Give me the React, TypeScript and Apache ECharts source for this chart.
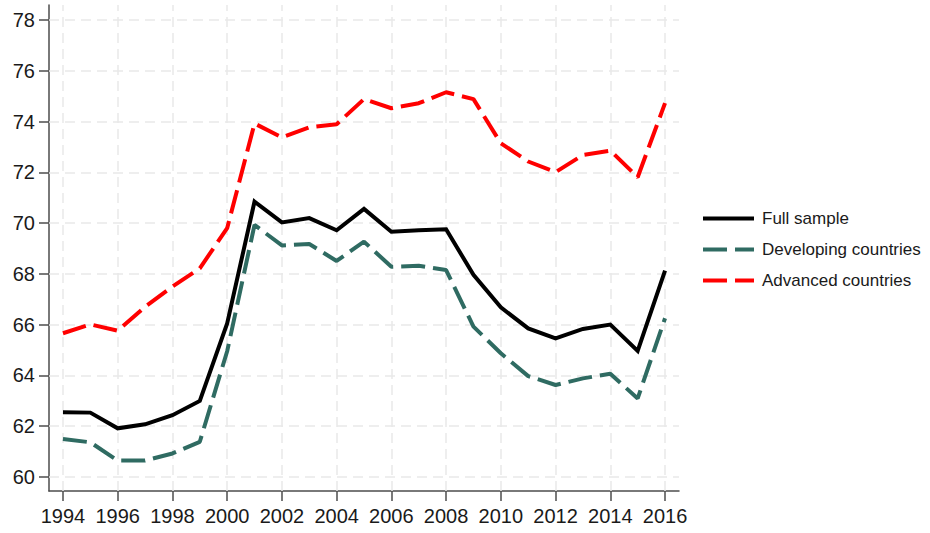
import React, { useEffect, useRef } from "react";
import * as echarts from "echarts";

const years = [1994, 1995, 1996, 1997, 1998, 1999, 2000, 2001, 2002, 2003, 2004, 2005, 2006, 2007, 2008, 2009, 2010, 2011, 2012, 2013, 2014, 2015, 2016];
const fullSample = [62.54, 62.53, 61.91, 62.07, 62.43, 62.99, 66.05, 70.85, 70.03, 70.2, 69.72, 70.56, 69.66, 69.72, 69.76, 67.96, 66.68, 65.85, 65.46, 65.83, 66.0, 64.96, 68.13];
const developing = [61.49, 61.36, 60.64, 60.64, 60.92, 61.38, 64.95, 69.93, 69.12, 69.18, 68.51, 69.27, 68.28, 68.32, 68.15, 65.92, 64.87, 63.97, 63.62, 63.88, 64.06, 63.09, 66.25];
const advanced = [65.66, 66.01, 65.76, 66.7, 67.5, 68.22, 69.8, 73.93, 73.38, 73.78, 73.9, 74.89, 74.53, 74.73, 75.16, 74.89, 73.15, 72.43, 72.01, 72.69, 72.86, 71.81, 74.73];
const xTicks = [1994, 1996, 1998, 2000, 2002, 2004, 2006, 2008, 2010, 2012, 2014, 2016];
const yTicks = [60, 62, 64, 66, 68, 70, 72, 74, 76, 78];

const FONT = 'Arial, "Liberation Sans", sans-serif';

export default function App() {
  const ref = useRef<HTMLDivElement>(null);
  useEffect(() => {
    if (!ref.current) return;
    const chart = echarts.init(ref.current, null, { renderer: "svg" });
    const pair = (ys: number[]) => years.map((y, i) => [y, ys[i]]);
    const gridLineStyle = { color: "#e9e9e9", width: 1.5, type: [10, 6] as any };
    chart.setOption({
      animation: false,
      backgroundColor: "#ffffff",
      grid: { left: 49, right: 251, top: 5, bottom: 42 },
      legend: {
        orient: "vertical",
        left: 696,
        top: 205,
        itemWidth: 51,
        itemHeight: 14,
        itemGap: 14,
        itemStyle: { opacity: 0, borderWidth: 0 },
        lineStyle: { width: 4 },
        textStyle: { fontFamily: FONT, fontSize: 17, color: "#1a1a1a", padding: [0, 0, 0, 3] },
        data: ["Full sample", "Developing countries", "Advanced countries"],
      },
      xAxis: {
        type: "value",
        min: 1993.49,
        max: 2016.51,
        axisLine: { show: true, onZero: false, lineStyle: { color: "#4d4d4d", width: 1.5 } },
        axisTick: { show: true, length: 10, lineStyle: { color: "#4d4d4d", width: 1.5 }, customValues: xTicks },
        axisLabel: { customValues: xTicks, fontFamily: FONT, fontSize: 20, color: "#1a1a1a", margin: 15, formatter: (v: number) => String(v) },
        splitLine: { show: false },
      },
      yAxis: {
        type: "value",
        min: 59.44,
        max: 78.6,
        axisLine: { show: true, onZero: false, lineStyle: { color: "#4d4d4d", width: 1.5 } },
        axisTick: { show: true, length: 10, lineStyle: { color: "#4d4d4d", width: 1.5 }, customValues: yTicks },
        axisLabel: { customValues: yTicks, fontFamily: FONT, fontSize: 20, color: "#1a1a1a", margin: 14, formatter: (v: number) => String(v) },
        splitLine: { show: false },
      },
      series: [
        {
          name: "Full sample",
          type: "line",
          data: pair(fullSample),
          showSymbol: false,
          symbol: "none",
          lineStyle: { color: "#000000", width: 4, join: "miter" },
          itemStyle: { color: "#000000" },
          z: 4,
          markLine: {
            silent: true,
            z: 1,
            symbol: ["none", "none"],
            label: { show: false },
            lineStyle: gridLineStyle,
            emphasis: { disabled: true },
            data: [
              ...xTicks.map((x) => ({ xAxis: x })),
              ...yTicks.map((y) => ({ yAxis: y })),
            ],
          },
        },
        {
          name: "Developing countries",
          type: "line",
          data: pair(developing),
          showSymbol: false,
          symbol: "none",
          lineStyle: { color: "#2f6b62", width: 4, type: [24, 8] },
          itemStyle: { color: "#2f6b62" },
          z: 3,
        },
        {
          name: "Advanced countries",
          type: "line",
          data: pair(advanced),
          showSymbol: false,
          symbol: "none",
          lineStyle: { color: "#ff0000", width: 4, type: [24, 8] },
          itemStyle: { color: "#ff0000" },
          z: 3,
        },
      ],
    });
    return () => chart.dispose();
  }, []);
  return <div ref={ref} style={{ width: 930, height: 533, position: "absolute", left: 0, top: 0 }} />;
}
